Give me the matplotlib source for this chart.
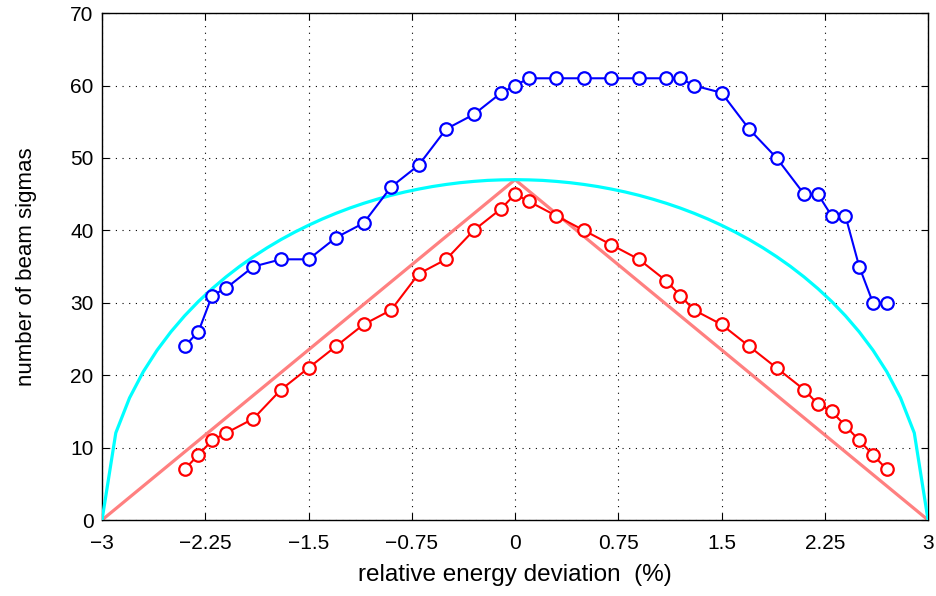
import numpy as np
import matplotlib
matplotlib.use('Agg')
import matplotlib.pyplot as plt

plt.rcParams['font.family'] = ['Liberation Sans', 'DejaVu Sans']

# measured points (energy deviation in %, aperture in beam sigmas)
dev_pts = [-2.4, -2.3, -2.2, -2.1, -1.9, -1.7, -1.5, -1.3, -1.1, -0.9, -0.7,
           -0.5, -0.3, -0.1, 0.0, 0.1, 0.3, 0.5, 0.7, 0.9, 1.1, 1.2, 1.3,
           1.5, 1.7, 1.9, 2.1, 2.2, 2.3, 2.4, 2.5, 2.6, 2.7]
blue_sig = [24, 26, 31, 32, 35, 36, 36, 39, 41, 46, 49, 54, 56, 59, 60, 61,
            61, 61, 61, 61, 61, 61, 60, 59, 54, 50, 45, 45, 42, 42, 35, 30, 30]
red_sig = [7, 9, 11, 12, 14, 18, 21, 24, 27, 29, 34, 36, 40, 43, 45, 44, 42,
           40, 38, 36, 33, 31, 29, 27, 24, 21, 18, 16, 15, 13, 11, 9, 7]

# triangular envelope
tri_x = [-3, 0, 3]
tri_y = [0, 47, 0]

# elliptical envelope, sampled every 0.1 %
ell_x = [round(-3 + 0.1 * i, 1) for i in range(61)]
ell_half = [0, 12.03, 16.87, 20.49, 23.45, 25.98, 28.20, 30.18, 31.95, 33.56,
            35.03, 36.37, 37.60, 38.73, 39.76, 40.70, 41.57, 42.36, 43.08,
            43.73, 44.31, 44.84, 45.30, 45.70, 46.05, 46.34, 46.58, 46.76,
            46.90, 46.97, 47.0]
ell_y = ell_half + ell_half[-2::-1]

xticks = [-3, -2.25, -1.5, -0.75, 0, 0.75, 1.5, 2.25, 3]
xtick_labels = ['\u22123', '\u22122.25', '\u22121.5', '\u22120.75', '0',
                '0.75', '1.5', '2.25', '3']

fig = plt.figure(figsize=(9.36, 5.96), dpi=100)
ax = fig.add_axes([0.109, 0.1275, 0.8825, 0.8505])

ax.plot(tri_x, tri_y, color='#ff8080', lw=2.3, zorder=2)
ax.plot(ell_x, ell_y, color='cyan', lw=2.3, zorder=3)
ax.plot(dev_pts, red_sig, '-o', color='red', lw=1.5, ms=9, mew=1.6,
        mfc='white', zorder=4)
ax.plot(dev_pts, blue_sig, '-o', color='blue', lw=1.5, ms=9, mew=1.6,
        mfc='white', zorder=5)

ax.set_xlim(-3, 3)
ax.set_ylim(0, 70)
ax.set_xticks(xticks)
ax.set_xticklabels(xtick_labels)
ax.set_yticks(range(0, 71, 10))
ax.tick_params(direction='in', top=True, right=True, length=5, width=0.8,
               labelsize=15)
ax.tick_params(axis='x', pad=10)
ax.tick_params(axis='y', pad=6)
ax.grid(True, color='black', linestyle=(0, (1, 5)), linewidth=0.8)
for s in ax.spines.values():
    s.set_linewidth(1.0)

ax.set_xlabel('relative energy deviation  (%)', fontsize=17.5, labelpad=8)
ax.set_ylabel('number of beam sigmas', fontsize=16, labelpad=24)

fig.savefig('out.png', dpi=100)
